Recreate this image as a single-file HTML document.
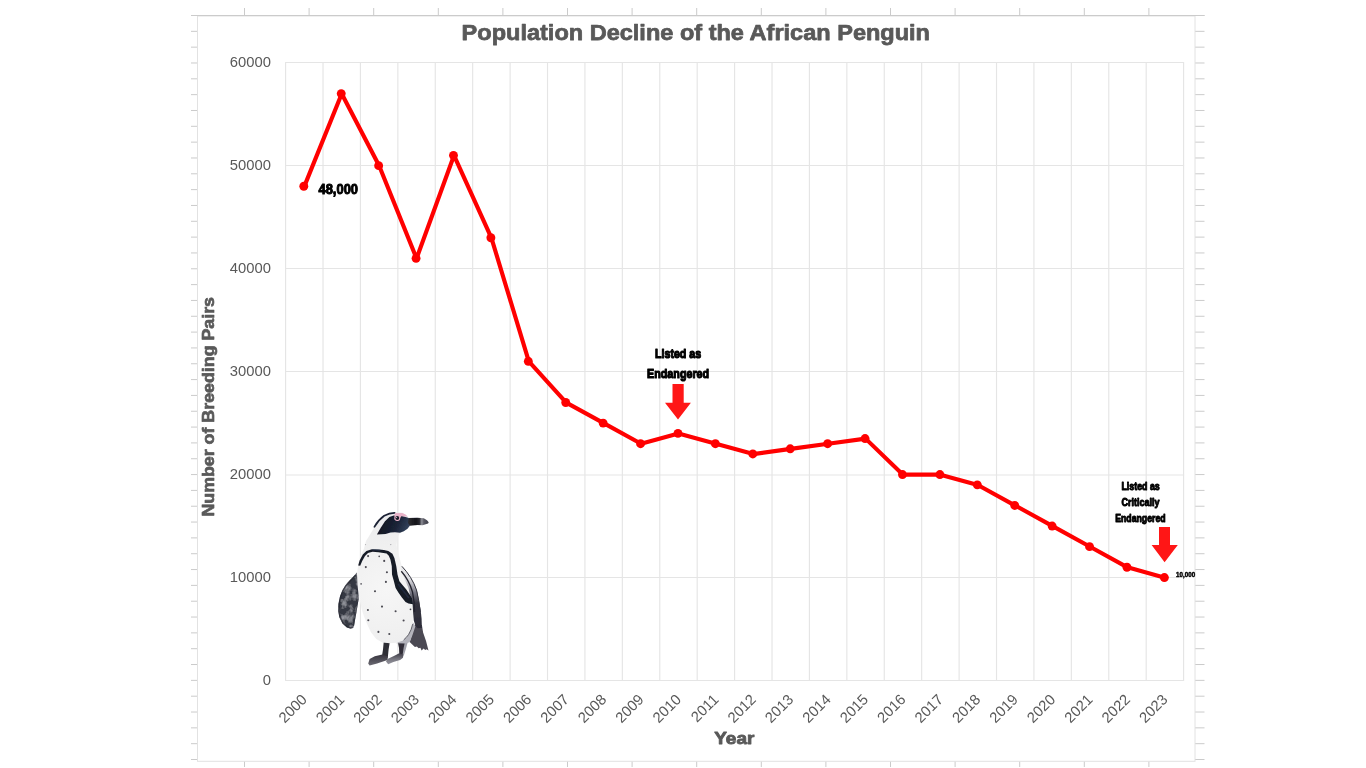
<!DOCTYPE html>
<html lang="en"><head><meta charset="utf-8"><title>Population Decline of the African Penguin</title>
<style>
html,body{margin:0;padding:0;background:#fff;overflow:hidden}
svg{display:block}
text{font-family:"Liberation Sans",Arial,sans-serif}
.tk{font-size:14.8px;fill:#595959}
.an{font-weight:bold;fill:#000;stroke:#000;stroke-linejoin:round}
.ttl{font-weight:bold;fill:#595959;stroke:#595959;stroke-linejoin:round}
</style></head><body>
<svg width="1366" height="768" viewBox="0 0 1366 768">
<rect width="1366" height="768" fill="#fff"/>

<g stroke="#cbcbcb" stroke-width="1" fill="none">
<path d="M191 15.50H1204.5"/>
<path d="M191 31.33H1204.5"/>
<path d="M191 47.16H1204.5"/>
<path d="M191 62.99H1204.5"/>
<path d="M191 78.82H1204.5"/>
<path d="M191 94.65H1204.5"/>
<path d="M191 110.48H1204.5"/>
<path d="M191 126.31H1204.5"/>
<path d="M191 142.14H1204.5"/>
<path d="M191 157.97H1204.5"/>
<path d="M191 173.80H1204.5"/>
<path d="M191 189.63H1204.5"/>
<path d="M191 205.46H1204.5"/>
<path d="M191 221.29H1204.5"/>
<path d="M191 237.12H1204.5"/>
<path d="M191 252.95H1204.5"/>
<path d="M191 268.78H1204.5"/>
<path d="M191 284.61H1204.5"/>
<path d="M191 300.44H1204.5"/>
<path d="M191 316.27H1204.5"/>
<path d="M191 332.10H1204.5"/>
<path d="M191 347.93H1204.5"/>
<path d="M191 363.76H1204.5"/>
<path d="M191 379.59H1204.5"/>
<path d="M191 395.42H1204.5"/>
<path d="M191 411.25H1204.5"/>
<path d="M191 427.08H1204.5"/>
<path d="M191 442.91H1204.5"/>
<path d="M191 458.74H1204.5"/>
<path d="M191 474.57H1204.5"/>
<path d="M191 490.40H1204.5"/>
<path d="M191 506.23H1204.5"/>
<path d="M191 522.06H1204.5"/>
<path d="M191 537.89H1204.5"/>
<path d="M191 553.72H1204.5"/>
<path d="M191 569.55H1204.5"/>
<path d="M191 585.38H1204.5"/>
<path d="M191 601.21H1204.5"/>
<path d="M191 617.04H1204.5"/>
<path d="M191 632.87H1204.5"/>
<path d="M191 648.70H1204.5"/>
<path d="M191 664.53H1204.5"/>
<path d="M191 680.36H1204.5"/>
<path d="M191 696.19H1204.5"/>
<path d="M191 712.02H1204.5"/>
<path d="M191 727.85H1204.5"/>
<path d="M191 743.68H1204.5"/>
<path d="M191 759.51H1204.5"/>
<path d="M244.50 8V767"/>
<path d="M309.10 8V767"/>
<path d="M373.70 8V767"/>
<path d="M438.30 8V767"/>
<path d="M502.90 8V767"/>
<path d="M567.50 8V767"/>
<path d="M632.10 8V767"/>
<path d="M696.70 8V767"/>
<path d="M761.30 8V767"/>
<path d="M825.90 8V767"/>
<path d="M890.50 8V767"/>
<path d="M955.10 8V767"/>
<path d="M1019.70 8V767"/>
<path d="M1084.30 8V767"/>
<path d="M1148.90 8V767"/>
</g>
<rect x="197.5" y="16" width="997.5" height="745.3" fill="#fff" stroke="#e2e2e2" stroke-width="1"/>
<path d="M191 15.5H1204.5" stroke="#cbcbcb" stroke-width="1" fill="none"/>
<g stroke="#e5e5e5" stroke-width="1.15" fill="none">
<path d="M285.1 62.50H1184.1"/>
<path d="M285.1 165.50H1184.1"/>
<path d="M285.1 268.50H1184.1"/>
<path d="M285.1 371.50H1184.1"/>
<path d="M285.1 475.00H1184.1"/>
<path d="M285.1 577.50H1184.1"/>
<path d="M285.1 680.50H1184.1"/>
<path d="M285.60 62.6V680.4"/>
<path d="M323.02 62.6V680.4"/>
<path d="M360.43 62.6V680.4"/>
<path d="M397.85 62.6V680.4"/>
<path d="M435.27 62.6V680.4"/>
<path d="M472.68 62.6V680.4"/>
<path d="M510.10 62.6V680.4"/>
<path d="M547.52 62.6V680.4"/>
<path d="M584.93 62.6V680.4"/>
<path d="M622.35 62.6V680.4"/>
<path d="M659.77 62.6V680.4"/>
<path d="M697.18 62.6V680.4"/>
<path d="M734.60 62.6V680.4"/>
<path d="M772.02 62.6V680.4"/>
<path d="M809.43 62.6V680.4"/>
<path d="M846.85 62.6V680.4"/>
<path d="M884.27 62.6V680.4"/>
<path d="M921.68 62.6V680.4"/>
<path d="M959.10 62.6V680.4"/>
<path d="M996.52 62.6V680.4"/>
<path d="M1033.93 62.6V680.4"/>
<path d="M1071.35 62.6V680.4"/>
<path d="M1108.77 62.6V680.4"/>
<path d="M1146.18 62.6V680.4"/>
<path d="M1183.60 62.6V680.4"/>
</g>
<defs>
<filter id="soft" x="-5%" y="-5%" width="110%" height="110%"><feGaussianBlur stdDeviation="0.55"/></filter>
<filter id="soft2" x="-5%" y="-5%" width="110%" height="110%"><feGaussianBlur stdDeviation="0.4"/></filter>
<filter id="mot" x="-10%" y="-10%" width="120%" height="120%">
<feTurbulence type="fractalNoise" baseFrequency="0.16 0.13" numOctaves="3" seed="11" result="n"/>
<feColorMatrix in="n" type="matrix" values="0 0 0 0 0.50  0 0 0 0 0.51  0 0 0 0 0.56  1.6 0 0 0 -0.68" result="c"/>
<feComposite in="c" in2="SourceGraphic" operator="in" result="m"/>
<feMerge result="mm"><feMergeNode in="SourceGraphic"/><feMergeNode in="m"/></feMerge>
<feGaussianBlur in="mm" stdDeviation="0.55"/>
</filter>
<radialGradient id="belly" cx="386" cy="590" r="75" gradientUnits="userSpaceOnUse">
<stop offset="0" stop-color="#f6f6f6"/><stop offset="0.6" stop-color="#f0f0f0"/><stop offset="1" stop-color="#ebebed"/>
</radialGradient>
<linearGradient id="face" x1="380" y1="520" x2="408" y2="532" gradientUnits="userSpaceOnUse">
<stop offset="0" stop-color="#12151f"/><stop offset="0.55" stop-color="#1a2236"/><stop offset="1" stop-color="#35455f"/>
</linearGradient>
<linearGradient id="beak" x1="409" y1="0" x2="429" y2="0" gradientUnits="userSpaceOnUse">
<stop offset="0" stop-color="#2a2a30"/><stop offset="0.35" stop-color="#141418"/><stop offset="0.52" stop-color="#2a2a30"/><stop offset="0.64" stop-color="#8e8f98"/><stop offset="0.74" stop-color="#5a5a64"/><stop offset="1" stop-color="#3c3c46"/>
</linearGradient>
<linearGradient id="rfl" x1="0" y1="566" x2="0" y2="628" gradientUnits="userSpaceOnUse">
<stop offset="0" stop-color="#ececee"/><stop offset="0.22" stop-color="#dcdce0"/><stop offset="0.42" stop-color="#7c7c88"/><stop offset="0.6" stop-color="#34343f"/><stop offset="1" stop-color="#2c2c38"/>
</linearGradient>
<linearGradient id="foot2" x1="0" y1="653" x2="0" y2="665" gradientUnits="userSpaceOnUse"><stop offset="0" stop-color="#3a3842"/><stop offset="0.5" stop-color="#77767f"/><stop offset="1" stop-color="#9a9aa3"/></linearGradient>
<linearGradient id="foot" x1="0" y1="654" x2="0" y2="666" gradientUnits="userSpaceOnUse">
<stop offset="0" stop-color="#34323a"/><stop offset="1" stop-color="#6e6c76"/>
</linearGradient>
</defs>
<g id="penguin">
<g filter="url(#soft)">
<!-- tail -->
<path fill="#4b4852" d="M414.9 625L421.9 625L423.1 632.4L426.1 641.3L428.5 650.4L426.6 649.2L425.2 650L423.6 648.6L421.6 650.4L420.4 647.8L418.6 648.2L416.9 646.4L414.9 647L412 644.3L409.7 642.1L412 634.6Z"/>
<!-- legs -->
<path fill="#2f2d35" d="M383.7 642L389.8 642L388.6 649.5L387.8 657.7L381.9 656.5L383 649.5Z"/>
<path fill="url(#foot)" d="M382.4 654.4L374.8 656.2L369.6 659.1L368.2 663.6L369.6 665.4L377.1 663.6L384.5 661L387.5 659.9L387.9 656.5Z"/>
<path fill="#a3a3ac" d="M402 641.6L408 641.2L406 648.6L404 655L402 656.5L402 648Z"/>
<path fill="#302e38" d="M397.7 641.6L405 641.6L403.6 648L402.6 655L399.3 654.4L399 648Z"/>
<path fill="url(#foot2)" d="M399.3 653.2L393.4 656.2L387.5 659.1L386 661.4L388.2 664.3L393.4 662.1L400.1 659.9L403 657.7L403.4 654.7Z"/>
<!-- light gray strip under belly right -->
<path fill="#b4b4bc" d="M412.7 622L415.5 626L412.5 635L409.7 642.3L405 643.5L396 643.2L403 640L408 635Z"/>
<!-- body -->
<path fill="url(#belly)" d="M395 512.3L402.5 512.8L407.5 516.2L409 519L410 525.6L407.5 528.8L403.8 531.3L400 533L397.6 537L396.6 545L397.6 551L399 556L401.9 566.3L407 573L410.5 580L412.6 590L413 605L413.1 612.5L412.8 620.6L412.7 625L410.5 630.9L407.5 636.1L403 640.6L397.1 642.8L389.7 643.2L382.3 642.4L376.3 639.1L371.1 632.4L367.5 625L364.4 617.5L361.9 610L360 601.3L358.7 593.1L357.5 585L356.6 579.7L357.2 572.7L358.4 563.3L360.2 556.3L363.7 549.2L366 541L371.9 531.6L376.6 523.4L383.6 515.2L390 512.5Z"/>
</g>
<path filter="url(#soft2)" fill="none" stroke="#3a3a44" stroke-width="0.9" stroke-linecap="round" opacity="0.85" d="M412.6 624.5Q411.5 630 408.6 634.5Q406.5 637.5 404 639.6"/>
<!-- right flipper -->
<g filter="url(#soft2)">
<path fill="url(#rfl)" d="M401.3 566L406.9 571.9L411.3 578.1L415 585L417.5 592.5L418.8 600L420.6 609.4L421.6 618.8L421.9 628.1L417.6 628.3L415.6 626.3L413.8 620.6L413.1 612.5L412.6 604L412.5 598.8L410 595L408.5 588L405 580L401.5 572Z"/>
<path fill="none" stroke="#34343e" stroke-width="1" d="M401.9 566.3Q412 577 416.5 590Q419 600 420.3 612"/>
<path fill="none" stroke="#23232d" stroke-width="1.3" d="M401.3 571.3Q409 580 412.5 592Q414.5 602 414.6 612"/>

</g>
<!-- chest band -->
<g filter="url(#soft2)">
<path fill="#191c28" d="M358.2 565.6L359.6 560.6L362.8 554.6L366.4 551.1L371.8 549.3L378.6 549.5L384 550.1L388.3 550.9L392.4 553.8L394.4 558L396.3 566.3L397.5 574.4L399.4 581.3L402.5 585L406.3 589.4L410 595L412.6 598.8L413 604.2L408.5 603.6L405.5 602L401.9 597.5L398.7 593.1L395.6 588.1L393.7 580.6L392 574.4L391.8 566.3L390.4 559.6L388.8 555.8L386.6 553.6L383.4 552.9L378.4 552.2L372.6 551.8L368 553.1L365 556L362.2 561L360.2 565.8Z"/>
<path fill="none" stroke="#2a3a55" stroke-width="1.6" stroke-linecap="round" opacity="0.45" d="M398.5 584.5L403 590.5L408.5 597.5"/>
<path fill="none" stroke="#2d405f" stroke-width="0.8" stroke-linecap="round" opacity="0.8" d="M373 549.7L380 550.2"/>
</g>
<!-- head -->
<g filter="url(#soft2)">
<path fill="none" stroke="#1b2134" stroke-width="1.7" stroke-linecap="round" d="M374.4 526.8Q378.2 519.9 384.2 515.7Q389.5 513 394.6 512.8"/>
<path fill="url(#face)" d="M376.9 534.4L380.6 528.1L385 521.3L389.4 516.9L393.8 515.4L399 515.2L404 516.6L408.8 518.1L410.2 522L410 525.6L407.5 528.8L403.8 531.3L400 532.8L395 532.2L390.6 532.5L385.6 534Z"/>
<path fill="#e9b3c9" d="M395.2 513.1L402.3 512.9L405.5 514.6L407.6 516.6L401.3 516.2L400.3 518.1A3 3 0 1 1 394.4 517.2Q394.2 514.6 395.2 513.1Z"/>
<circle cx="397.3" cy="518" r="1.9" fill="#1a1b26"/>
<circle cx="396.6" cy="517.4" r="0.5" fill="#e8e8f0"/>
<path fill="url(#beak)" d="M408.6 518L417.5 517.7L423.8 518.3L427 520.2L428.7 522.2L428.1 523.5L422.5 525.3L417.5 525.1L410 525.7L408 523Z"/>
</g>
<!-- left flipper -->
<g filter="url(#mot)">
<path fill="#353743" d="M348 582L345.6 585L342.5 590L340 596.3L338.4 603.8L338.1 611.3L339.4 617.5L342.5 623.8L346.9 627.5L350.6 628.8L353.1 628.1L354.1 625.6L355 620L356.3 613.1L357.5 605.6L358.8 598.8L358.4 593.1L357.5 585L356.9 572.5L352.5 577.5Z"/>
</g>
<g filter="url(#soft)" fill="none" stroke-linecap="round">
<path stroke="#252730" stroke-width="1.3" opacity="0.75" d="M355.5 575.5L350.5 580.5L345.8 586L342.8 591L340.6 597L339.3 604L339 611L340.2 617L343 622.8L347 626.6L350.6 627.8L352.6 627.2"/>
<path stroke="#2a2c36" stroke-width="1" opacity="0.6" d="M353.6 625.6L354.6 620L355.8 613L357 606L358 599"/>
</g>
<!-- spots -->
<g fill="#4b4a52" filter="url(#soft2)">
<circle cx="368.1" cy="556.1" r="1.05"/><circle cx="379.2" cy="556.4" r="0.8"/><circle cx="384.2" cy="560.9" r="1.05"/><circle cx="365.8" cy="567.1" r="1.05"/><circle cx="386.9" cy="572.3" r="1.05"/><circle cx="385.9" cy="581.9" r="1.05"/><circle cx="361.1" cy="583.9" r="0.8"/><circle cx="375" cy="591.3" r="1.05"/><circle cx="382" cy="606.6" r="1.05"/><circle cx="367.9" cy="610" r="1.05"/><circle cx="368.3" cy="620.3" r="1.05"/><circle cx="378.4" cy="631.9" r="1.05"/><circle cx="395.6" cy="611.3" r="1.05"/><circle cx="410.5" cy="609.3" r="0.9"/><circle cx="403.6" cy="620.5" r="1.05"/><circle cx="389.3" cy="634" r="1.05"/><circle cx="390.8" cy="544.6" r="0.6" fill="#9a9aa0"/><circle cx="365.5" cy="544.6" r="0.6" fill="#b0b0b4"/>
</g>
</g>

<g class="tk" text-anchor="end">
<text transform="translate(271 684.80) scale(0.955 1)" font-size="15.5">0</text>
<text transform="translate(271 581.83) scale(0.955 1)" font-size="15.5">10000</text>
<text transform="translate(271 478.87) scale(0.955 1)" font-size="15.5">20000</text>
<text transform="translate(271 375.90) scale(0.955 1)" font-size="15.5">30000</text>
<text transform="translate(271 272.93) scale(0.955 1)" font-size="15.5">40000</text>
<text transform="translate(271 169.97) scale(0.955 1)" font-size="15.5">50000</text>
<text transform="translate(271 67.00) scale(0.955 1)" font-size="15.5">60000</text>
</g>
<g class="tk" text-anchor="end">
<text transform="translate(307.91 700.4) rotate(-45)">2000</text>
<text transform="translate(345.33 700.4) rotate(-45)">2001</text>
<text transform="translate(382.74 700.4) rotate(-45)">2002</text>
<text transform="translate(420.16 700.4) rotate(-45)">2003</text>
<text transform="translate(457.58 700.4) rotate(-45)">2004</text>
<text transform="translate(494.99 700.4) rotate(-45)">2005</text>
<text transform="translate(532.41 700.4) rotate(-45)">2006</text>
<text transform="translate(569.83 700.4) rotate(-45)">2007</text>
<text transform="translate(607.24 700.4) rotate(-45)">2008</text>
<text transform="translate(644.66 700.4) rotate(-45)">2009</text>
<text transform="translate(682.08 700.4) rotate(-45)">2010</text>
<text transform="translate(719.49 700.4) rotate(-45)">2011</text>
<text transform="translate(756.91 700.4) rotate(-45)">2012</text>
<text transform="translate(794.32 700.4) rotate(-45)">2013</text>
<text transform="translate(831.74 700.4) rotate(-45)">2014</text>
<text transform="translate(869.16 700.4) rotate(-45)">2015</text>
<text transform="translate(906.58 700.4) rotate(-45)">2016</text>
<text transform="translate(943.99 700.4) rotate(-45)">2017</text>
<text transform="translate(981.41 700.4) rotate(-45)">2018</text>
<text transform="translate(1018.83 700.4) rotate(-45)">2019</text>
<text transform="translate(1056.24 700.4) rotate(-45)">2020</text>
<text transform="translate(1093.66 700.4) rotate(-45)">2021</text>
<text transform="translate(1131.07 700.4) rotate(-45)">2022</text>
<text transform="translate(1168.49 700.4) rotate(-45)">2023</text>
</g>
<text class="ttl" x="461.6" y="39.8" font-size="22.6" stroke-width="0.75" textLength="468.4" lengthAdjust="spacingAndGlyphs">Population Decline of the African Penguin</text>
<text class="ttl" x="714.2" y="743.5" font-size="17.4" stroke-width="0.85" textLength="40.2" lengthAdjust="spacingAndGlyphs">Year</text>
<text class="ttl" transform="translate(214 516.6) rotate(-90)" font-size="17.2" stroke-width="0.7" textLength="219.6" lengthAdjust="spacingAndGlyphs">Number of Breeding Pairs</text>
<polyline points="304.31,186.36 341.73,93.69 379.14,165.77 416.56,258.44 453.98,155.47 491.39,237.84 528.81,361.40 566.23,402.59 603.64,423.18 641.06,443.78 678.48,433.48 715.89,443.78 753.31,454.07 790.72,448.93 828.14,443.78 865.56,438.63 902.98,474.67 940.39,474.67 977.81,484.96 1015.23,505.56 1052.64,526.15 1090.06,546.74 1127.47,567.34 1164.89,577.63" fill="none" stroke="#ff0000" stroke-width="4.15" stroke-linejoin="round" stroke-linecap="round"/>
<g fill="#ff0000">
<circle cx="303.81" cy="186.26" r="4.45"/>
<circle cx="341.23" cy="93.59" r="4.45"/>
<circle cx="378.64" cy="165.67" r="4.45"/>
<circle cx="416.06" cy="258.34" r="4.45"/>
<circle cx="453.48" cy="155.37" r="4.45"/>
<circle cx="490.89" cy="237.74" r="4.45"/>
<circle cx="528.31" cy="361.30" r="4.45"/>
<circle cx="565.73" cy="402.49" r="4.45"/>
<circle cx="603.14" cy="423.08" r="4.45"/>
<circle cx="640.56" cy="443.68" r="4.45"/>
<circle cx="677.98" cy="433.38" r="4.45"/>
<circle cx="715.39" cy="443.68" r="4.45"/>
<circle cx="752.81" cy="453.97" r="4.45"/>
<circle cx="790.22" cy="448.82" r="4.45"/>
<circle cx="827.64" cy="443.68" r="4.45"/>
<circle cx="865.06" cy="438.53" r="4.45"/>
<circle cx="902.48" cy="474.57" r="4.45"/>
<circle cx="939.89" cy="474.57" r="4.45"/>
<circle cx="977.31" cy="484.86" r="4.45"/>
<circle cx="1014.73" cy="505.46" r="4.45"/>
<circle cx="1052.14" cy="526.05" r="4.45"/>
<circle cx="1089.56" cy="546.64" r="4.45"/>
<circle cx="1126.97" cy="567.24" r="4.45"/>
<circle cx="1164.39" cy="577.53" r="4.45"/>
</g>
<g class="an">
<text x="318.5" y="193.7" font-size="14.6" stroke-width="1.0" textLength="39.5" lengthAdjust="spacingAndGlyphs">48,000</text>
<text x="655" y="357.5" font-size="13.4" stroke-width="1.15" textLength="46.2" lengthAdjust="spacingAndGlyphs">Listed as</text>
<text x="647.1" y="377.8" font-size="13.4" stroke-width="1.15" textLength="62" lengthAdjust="spacingAndGlyphs">Endangered</text>
<text x="1121.4" y="489.8" font-size="10.8" stroke-width="0.95" textLength="38.4" lengthAdjust="spacingAndGlyphs">Listed as</text>
<text x="1121.4" y="505.9" font-size="10.8" stroke-width="0.95" textLength="38" lengthAdjust="spacingAndGlyphs">Critically</text>
<text x="1115.2" y="521.8" font-size="10.8" stroke-width="0.95" textLength="50.4" lengthAdjust="spacingAndGlyphs">Endangered</text>
<text x="1176.1" y="577" font-size="7.6" stroke-width="0.5" textLength="19" lengthAdjust="spacingAndGlyphs">10,000</text>
</g>
<path fill="#ff1616" d="M672.5 384.1H683.7V402.7H690.9L678 419.6L665 402.7H672.5Z"/>
<path fill="#ff1616" d="M1159 527H1170V545H1177.8L1164.6 562.2L1151.6 545H1159Z"/>
</svg>
</body></html>
